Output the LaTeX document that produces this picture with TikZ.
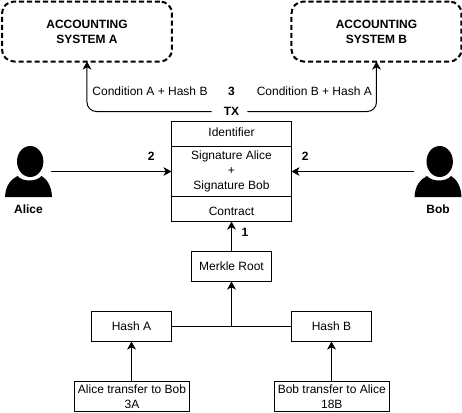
\documentclass[tikz,border=0pt]{standalone}
\usepackage{fontspec}
\setmainfont{Liberation Sans}
\usepackage{tikz}
\newcommand{\nodewidth}{60pt}
\newcommand{\nodeheight}{22.5pt}
\newcommand{\personicon}[1]{
  \fill ($(#1)+(1.7,-9.5)$) ellipse [x radius=13.2,y radius=15.5];
  \fill ($(#1)+(-23.5,26)$) .. controls ($(#1)+(-23,14)$) and ($(#1)+(-17,8)$) .. ($(#1)+(-11,5)$)
    .. controls ($(#1)+(-6,11)$) and ($(#1)+(8,11)$) .. ($(#1)+(13,5)$)
    .. controls ($(#1)+(18,8)$) and ($(#1)+(23,14)$) .. ($(#1)+(23.5,26)$) -- cycle;
}
\usetikzlibrary{arrows.meta,calc,positioning}
\tikzset{
  >={Stealth[length=6pt,width=6.5pt,inset=1.6pt]},
  font=\fontsize{9pt}{11pt}\selectfont,
  x=0.75pt,y=-0.75pt,
  node distance=0pt,
  rect/.style={draw,shape=rectangle,minimum width=\nodewidth,minimum height=\nodeheight,inner sep=0,outer sep=0,line width=0.75pt,align=center},
  system/.style={draw,shape=rectangle,rounded corners=9pt,minimum width=127.5pt,minimum height=45pt,line width=1.5pt,dash pattern=on 3.8pt off 2.2pt,align=center,font=\fontsize{9pt}{11.25pt}\selectfont\bfseries,outer sep=0},
  line/.style={draw,->,line width=0.75pt,rounded corners=7pt},
  tag/.style={font=\fontsize{9pt}{11pt}\selectfont\bfseries,inner sep=0},
  txt/.style={inner sep=0},
}
\begin{document}
\begin{tikzpicture}
  \useasboundingbox (0,0) rectangle (462,412);
  % systems
  \node (sysA) [system] at (87,31.5) {ACCOUNTING\\SYSTEM A};
  \node (sysB) [system] at (376.5,31.5) {ACCOUNTING\\SYSTEM B};
  \node (tx) [tag] at (231.5,111.5) {TX};
  \node (three) [tag] at (231.5,91) {3};
  \node (condA) [txt] at (150,91) {Condition A + Hash B};
  \node (condB) [txt] at (314.3,91) {Condition B + Hash A};
  \path [line] ($(tx.west)-(12,0)$) -| (sysA.south);
  \path [line] ($(tx.east)+(8,0)$) -| (sysB.south);
  % transaction
  \node (identifier) [rect,minimum width=90pt,minimum height=18.75pt,text depth=3.5pt] at (231.5,134) {Identifier};
  \node (signature) [rect,minimum width=90pt,minimum height=37.5pt,below=of identifier] {Signature Alice\\+\\Signature Bob};
  \node (contract) [rect,minimum width=90pt,minimum height=18.75pt,below=of signature,text height=10pt] {Contract};
  % people
  \coordinate (alice) at (28.5,171);
  \coordinate (bob) at (438,171);
  \personicon{alice}
  \personicon{bob}
  \node (aliceName) [tag] at (28.5,209.5) {Alice};
  \node (bobName) [tag] at (438,209.5) {Bob};
  \coordinate (aliceEnd) at (51.3,171.5);
  \coordinate (bobEnd) at (413.7,171.5);
  \path [line] (aliceEnd) -- (signature.west);
  \path [line] (bobEnd) -- (signature.east);
  \node (twoA) [tag] at (151.3,156) {2};
  \node (twoB) [tag] at (305.3,156) {2};
  % merkle tree
  \node (root) [rect] at (231.5,266.5) {Merkle Root};
  \node (hashA) [rect] at (131.5,326.5) {Hash A};
  \node (hashB) [rect] at (331.5,326.5) {Hash B};
  \node (transferA) [rect,minimum width=86.25pt] at (132,396.5) {Alice transfer to Bob\\3A};
  \node (transferB) [rect,minimum width=86.25pt] at (331.8,396.5) {Bob transfer to Alice\\18B};
  \node (one) [tag] at (245,232) {1};
  \coordinate (join) at (231.5,326.5);
  \path [line] (root) -- (contract);
  \draw [line width=0.75pt] (hashA) -- (hashB);
  \path [line] (join) -- (root);
  \path [line] (transferA.north -| hashA) -- (hashA);
  \path [line] (transferB.north -| hashB) -- (hashB);
\end{tikzpicture}
\end{document}
